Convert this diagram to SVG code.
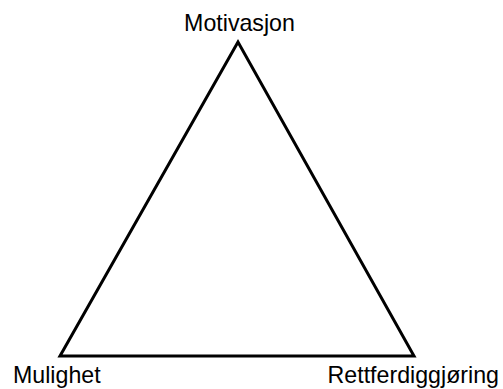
<svg xmlns="http://www.w3.org/2000/svg" width="503" height="389" viewBox="0 0 503 389">
<style>
.lbl{font-family:"Liberation Sans",Arial,sans-serif;font-size:23.2px;fill:#000}
.edge{fill:none;stroke:#000;stroke-width:3;stroke-linejoin:miter}
</style>
<rect width="503" height="389" fill="#fff"/>
<g id="connectors">
<polygon class="edge" points="238,42 60,356 414,356"/>
</g>
<g id="node-motivasjon"><text class="lbl" x="239.5" y="30.5" text-anchor="middle">Motivasjon</text></g>
<g id="node-mulighet"><text class="lbl" x="13" y="383">Mulighet</text></g>
<g id="node-rettferdiggjoring"><text class="lbl" x="499" y="383" text-anchor="end">Rettferdiggjøring</text></g>
</svg>
